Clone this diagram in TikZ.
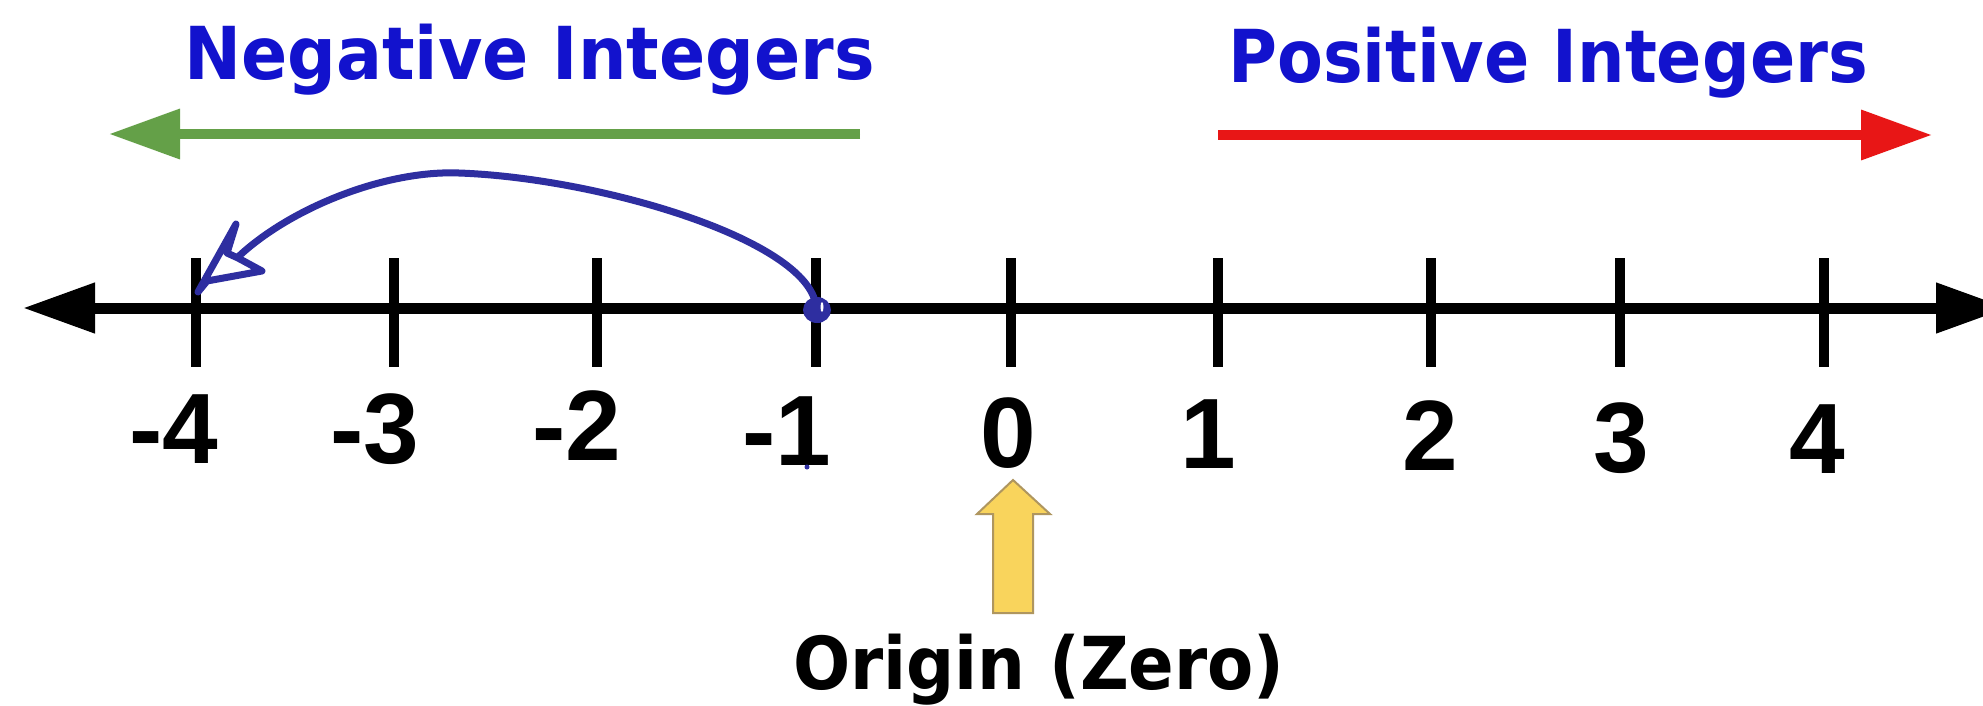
\documentclass[tikz,border=0pt]{standalone}
\usepackage{fontspec}
\usepackage{graphicx}
\usetikzlibrary{arrows.meta}
\newfontfamily\numfont{Liberation Sans}
\newfontfamily\headfont{DejaVu Sans}
\definecolor{headblue}{RGB}{18,18,205}
\definecolor{greenarr}{RGB}{100,160,72}
\definecolor{redarr}{RGB}{232,22,22}
\definecolor{handblue}{RGB}{46,46,160}
\definecolor{origfill}{RGB}{249,212,92}
\definecolor{origdraw}{RGB}{175,150,95}
\begin{document}
\begin{tikzpicture}[x=1pt,y=-1pt,
  numlab/.style={font=\numfont\bfseries\fontsize{100}{110}\selectfont, inner sep=0pt, anchor=base},
  headlab/.style={font=\headfont\bfseries\fontsize{73}{80}\selectfont, inner sep=0pt, anchor=base west},
  axisline/.style={line width=11pt, -{Triangle[length=72pt,width=48pt]}},
  tickline/.style={line width=9.5pt},
  dirarrow/.style={line width=10pt, -{Triangle[length=71pt,width=48pt]}},
  hand/.style={draw=handblue, line width=7pt, line cap=round, line join=round},
  origarrow/.style={fill=origfill, draw=origdraw, line width=2pt, line join=miter}
]
\useasboundingbox (0,0) rectangle (1983,705);
\fill[white] (0,0) rectangle (1983,705);
\clip (0,0) rectangle (1983,705);

% headings
\node[headlab, text=headblue] (neg) at (184,79) {\scalebox{0.934}[1]{Negative Integers}};
\node[headlab, text=headblue] (pos) at (1228,82) {\scalebox{0.915}[1]{Positive Integers}};

% direction arrows
\coordinate (gtail) at (860,134);
\coordinate (ghead) at (109,134);
\draw[dirarrow, draw=greenarr, fill=greenarr] (gtail) -- (ghead);
\coordinate (rtail) at (1218,135);
\coordinate (rhead) at (1932,135);
\draw[dirarrow, draw=redarr, fill=redarr] (rtail) -- (rhead);

% number line
\coordinate (amid) at (1000,308);
\coordinate (aleft) at (23,308);
\coordinate (aright) at (2008,308);
\draw[axisline] (amid) -- (aleft);
\draw[axisline] (amid) -- (aright);

% ticks
\foreach \x/\n in {196/m4, 394/m3, 597/m2, 816/m1, 1011/z0, 1218/p1, 1431/p2, 1620/p3, 1824/p4}{
  \coordinate (top\n) at (\x,258);
  \coordinate (bot\n) at (\x,367);
  \draw[tickline] (top\n) -- (bot\n);
}

% tick labels
\node[numlab] (lm4) at (174,463) {-4};
\node[numlab] (lm3) at (375,463) {-3};
\node[numlab] (lm2) at (577,460) {-2};
\node[numlab] (lm1) at (787,465) {-1};
\node[numlab] (l0) at (1008,467) {0};
\node[numlab] (l1) at (1208,468) {1};
\node[numlab] (l2) at (1430,470) {2};
\node[numlab] (l3) at (1621,472) {3};
\node[numlab] (l4) at (1817,473) {4};

% origin arrow and label
\draw[origarrow] (993,613) -- (993,514) -- (977,514) -- (1013,480) -- (1050,514) -- (1033,514) -- (1033,613) -- cycle;
\node[headlab, text=black] (orig) at (793,689) {\scalebox{0.922}[1]{Origin (Zero)}};

% hand-drawn jump from -1 to -4
\coordinate (jfrom) at (816,306);
\coordinate (jto) at (238,257);
\draw[hand] (jfrom) .. controls (808,240) and (600,178) .. (459,173)
  .. controls (385,170) and (290,208) .. (jto);
\draw[hand] (236,224) -- (198,292) -- (207,281) -- (262,271) -- (238,258) -- (227,253) -- cycle;
\fill[handblue] (817,310) ellipse [x radius=14, y radius=13];
\fill[white] (822,307) ellipse [x radius=1.5, y radius=5];
\fill[handblue] (807,467) circle (2.5);
\end{tikzpicture}
\end{document}
